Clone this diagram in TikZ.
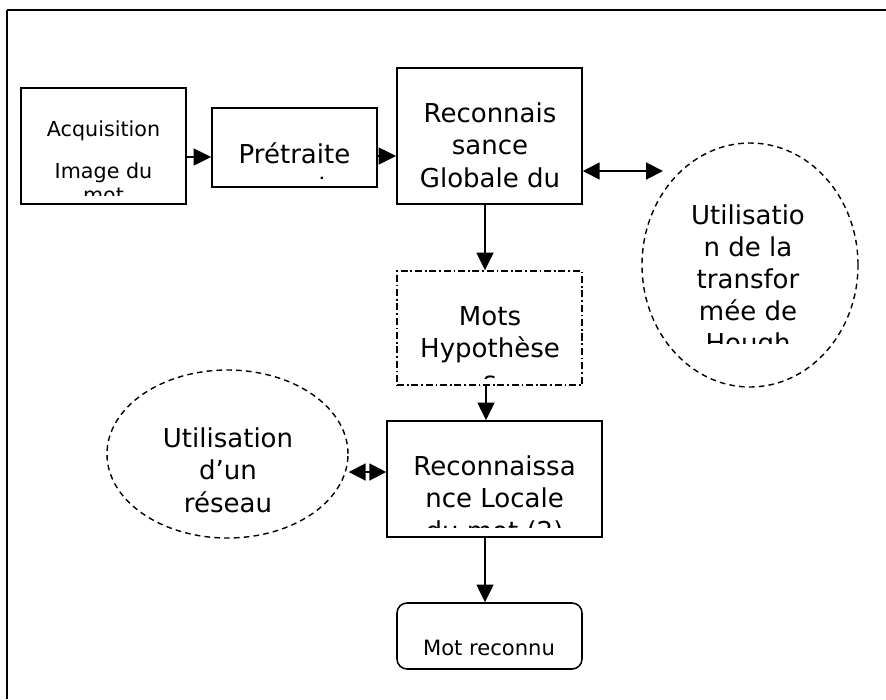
\documentclass[tikz,border=0pt]{standalone}
\usepackage{fontspec}
\setmainfont{DejaVu Sans}
\usetikzlibrary{arrows.meta,shapes.geometric}

\begin{document}
\begin{tikzpicture}[x=0.025cm,y=-0.025cm,
  bloc/.style={draw,line width=1.1pt,inner sep=0pt},
  bulle/.style={draw,ellipse,dashed,dash pattern=on 4pt off 3pt,line width=1pt,inner sep=0pt},
  hypo/.style={draw,line width=1pt,inner sep=0pt,dash pattern=on 5pt off 2pt on 1.2pt off 2pt},
  texte/.style={anchor=base,align=center,inner sep=0pt,font=\fontsize{18.5}{23}\selectfont},
  fleche/.style={line width=1.4pt,-{Triangle[length=0.44cm,width=0.42cm]}},
  dfleche/.style={line width=1.4pt,{Triangle[length=0.42cm,width=0.42cm]}-{Triangle[length=0.42cm,width=0.42cm]}}]
\useasboundingbox (0,0) rectangle (886,699);

\draw[line width=1.5pt] (7,699) -- (7,10);
\draw[line width=1pt] (7,10) -- (886,10);

\node[bloc,minimum width=165*0.025cm,minimum height=116*0.025cm] (acq) at (103.5,146) {};
\node[bloc,minimum width=165*0.025cm,minimum height=79*0.025cm] (pretr) at (294.5,147.5) {};
\node[bloc,minimum width=185*0.025cm,minimum height=136*0.025cm] (glob) at (489.5,136) {};
\node[hypo,minimum width=185*0.025cm,minimum height=114*0.025cm] (hyp) at (489.5,328) {};
\node[bloc,minimum width=215*0.025cm,minimum height=116*0.025cm] (loc) at (494.5,479) {};
\node[bloc,rounded corners=0.25cm,minimum width=185*0.025cm,minimum height=66*0.025cm] (reconnu) at (489.5,636) {};
\node[bulle,minimum width=216*0.025cm,minimum height=244*0.025cm] (hough) at (750,265) {};
\node[bulle,minimum width=241*0.025cm,minimum height=168*0.025cm] (reseau) at (227.5,454) {};
\coordinate (houghin) at (663,171);

\begin{scope}
\clip (21,88) rectangle (186,195.5);
\node[texte,font=\fontsize{14.7}{17}\selectfont] (acqtxt) at (103.5,202) {Acquisition\\[12.8pt]Image du\\mot};
\end{scope}
\begin{scope}
\clip (212,108) rectangle (377,178.5);
\node[texte] (pretrtxt) at (294.5,195.5) {Prétraite\\ment};
\end{scope}
\node[texte] (globtxt) at (490,187) {Reconnais\\sance\\Globale du};
\begin{scope}
\clip (397,271) rectangle (582,378);
\node[texte] (hyptxt) at (490,390) {Mots\\Hypothèse\\s};
\end{scope}
\begin{scope}
\clip (387,421) rectangle (602,527.5);
\node[texte] (loctxt) at (494.5,540) {Reconnaissa\\nce Locale\\du mot (2)};
\end{scope}
\begin{scope}
\clip (642,140) rectangle (857,343);
\node[texte,font=\fontsize{18.5}{22.6}\selectfont] (houghtxt) at (748,352) {Utilisatio\\n de la\\transfor\\mée de\\Hough};
\end{scope}
\node[texte,font=\fontsize{18.5}{22.8}\selectfont] (reseautxt) at (228,512) {Utilisation\\d’un\\réseau};
\node[texte,font=\fontsize{15}{18}\selectfont] (reconnutxt) at (489,655) {Mot reconnu};

\draw[fleche] (acq.east |- 0,157) -- (pretr.west |- 0,157);
\draw[fleche] (pretr.east |- 0,156) -- (glob.west |- 0,156);
\draw[dfleche] (glob.east |- 0,171) -- (houghin);
\draw[fleche] (glob.south -| 485,0) -- (hyp.north -| 485,0);
\draw[fleche] (hyp.south -| 486,0) -- (loc.north -| 486,0);
\draw[dfleche] (reseau.east |- 0,472) -- (loc.west |- 0,472);
\draw[fleche] (loc.south -| 485,0) -- (reconnu.north -| 485,0);

\end{tikzpicture}
\end{document}
